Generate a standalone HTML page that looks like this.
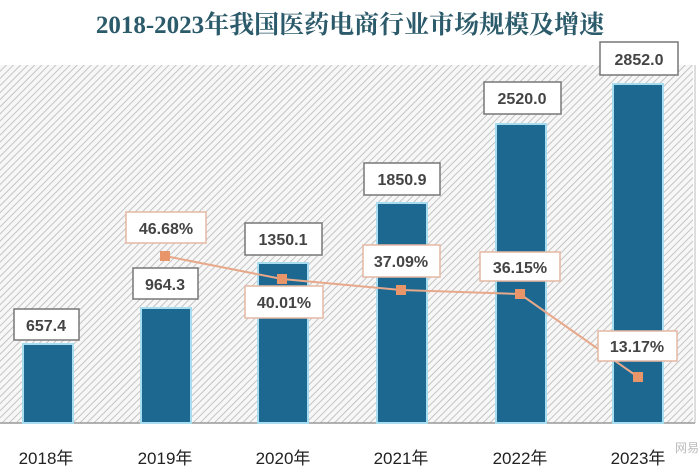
<!DOCTYPE html>
<html><head><meta charset="utf-8"><style>
body{margin:0;width:700px;height:470px;background:#fff;overflow:hidden}
svg text{font-family:"Liberation Sans","Noto Sans CJK SC",sans-serif}
</style></head><body>
<svg width="700" height="470" xmlns="http://www.w3.org/2000/svg">
<defs>
<pattern id="h" width="5" height="5" patternUnits="userSpaceOnUse" patternTransform="rotate(45)">
<rect width="5" height="5" fill="#f7f7f7"/><line x1="0" y1="0" x2="0" y2="5" stroke="#c4c4c4" stroke-width="2"/>
</pattern>
</defs>
<rect x="0" y="65" width="693" height="358" fill="url(#h)"/>
<line x1="695" y1="65" x2="695" y2="423" stroke="#bbb" stroke-width="1"/>
<line x1="0" y1="423" x2="695" y2="423" stroke="#999" stroke-width="1.5"/>
<text x="350" y="33" font-size="25" font-weight="bold" fill="#2b5a6a" text-anchor="middle" style="font-family:'Liberation Serif','Noto Serif CJK SC',serif">2018-2023年我国医药电商行业市场规模及增速</text>
<g fill="#1c6891" stroke="#a8dcef" stroke-width="2">
<rect x="23" y="344" width="50" height="79"/>
<rect x="141" y="308" width="50" height="115"/>
<rect x="258" y="263" width="50" height="160"/>
<rect x="377" y="203" width="50" height="220"/>
<rect x="496" y="124" width="50" height="299"/>
<rect x="613" y="84" width="50" height="339"/>
</g>
<polyline points="165,256 282,279 401,290 520,294 638,377" fill="none" stroke="#e8a88a" stroke-width="2"/>
<g fill="#e8956a">
<rect x="160" y="251" width="10" height="10"/><rect x="277" y="274" width="10" height="10"/><rect x="396" y="285" width="10" height="10"/><rect x="515" y="289" width="10" height="10"/><rect x="633" y="372" width="10" height="10"/>
</g>
<g fill="#fff" stroke="#777" stroke-width="1.5">
<rect x="14" y="309" width="65" height="31"/>
<rect x="133" y="268" width="65" height="31"/>
<rect x="245" y="223" width="77" height="32"/>
<rect x="364" y="163" width="76" height="32"/>
<rect x="484" y="82" width="77" height="32"/>
<rect x="600" y="42" width="78" height="33"/>
</g>
<g fill="#fff" stroke="#e5b8a4" stroke-width="1.5">
<rect x="126" y="212" width="80" height="31"/>
<rect x="245" y="286" width="78" height="32"/>
<rect x="363" y="245" width="77" height="32"/>
<rect x="480" y="252" width="80" height="29"/>
<rect x="598" y="331" width="79" height="30"/>
</g>
<g font-size="16" font-weight="bold" fill="#444" text-anchor="middle">
<text x="46" y="331">657.4</text><text x="165" y="290">964.3</text><text x="283" y="245">1350.1</text><text x="402" y="185">1850.9</text><text x="522" y="104">2520.0</text><text x="639" y="65">2852.0</text>
<text x="166" y="234">46.68%</text><text x="284" y="308">40.01%</text><text x="401" y="267">37.09%</text><text x="520" y="273">36.15%</text><text x="637" y="352">13.17%</text>
</g>
<g font-size="17" fill="#222" text-anchor="middle">
<text x="46" y="464">2018年</text><text x="165" y="464">2019年</text><text x="283" y="464">2020年</text><text x="401" y="464">2021年</text><text x="520" y="464">2022年</text><text x="638" y="464">2023年</text>
</g>
<text x="675" y="452" font-size="12" fill="#bbb">网易号</text>
</svg>
</body></html>
